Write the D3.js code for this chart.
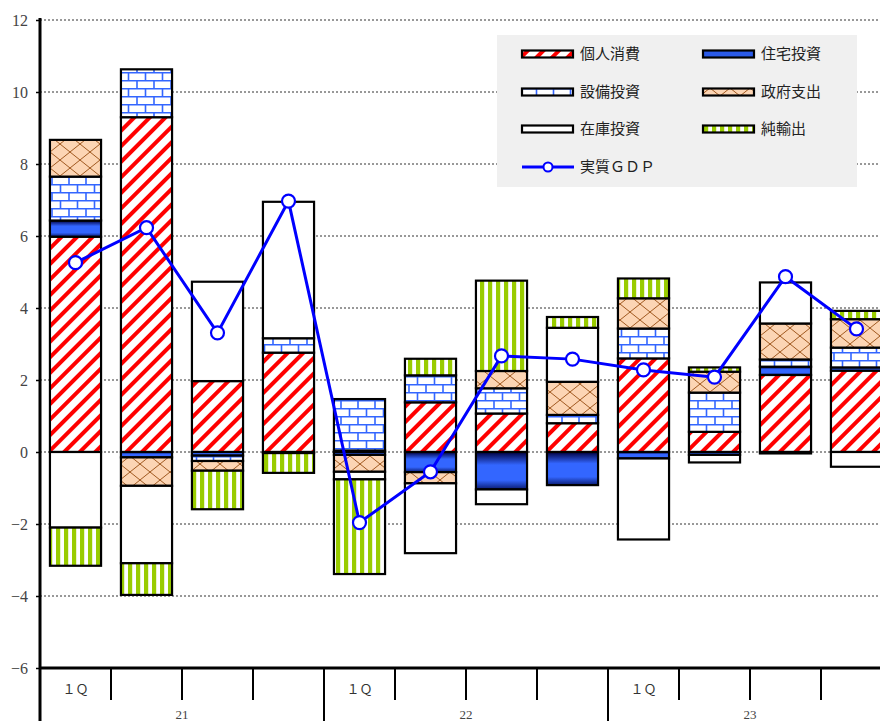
<!DOCTYPE html>
<html>
<head>
<meta charset="utf-8">
<script src="https://cdn.jsdelivr.net/npm/d3@7"></script>
<style>
body { margin: 0; background: #fff; }
svg { display: block; }
</style>
</head>
<body>
<div id="chart"></div>
<script>
const w = 880;
const h = 721;
const xLeft = 40;
const yTop = 20;
const yBottom = 668;
const serif = '"Liberation Serif", "DejaVu Serif", serif';
const jpFont = '"Noto Sans CJK JP", sans-serif';

// data (contribution to real GDP growth, % pts)
const quarters = ["21Q1","21Q2","21Q3","21Q4","22Q1","22Q2","22Q3","22Q4","23Q1","23Q2","23Q3","23Q4"];
const quarterLabels = ["１Ｑ","","","","１Ｑ","","","","１Ｑ","","",""];
const years = ["21","22","23"];
const keys = ["個人消費","住宅投資","設備投資","政府支出","在庫投資","純輸出"];
const consumption = [5.98, 9.30, 1.97, 2.76, 0.04, 1.38, 1.07, 0.80, 2.60, 0.56, 2.14, 2.26];
const housing     = [0.45, -0.15, -0.10, -0.03, -0.08, -0.56, -1.04, -0.92, -0.18, -0.08, 0.23, 0.09];
const capex       = [1.22, 1.33, -0.15, 0.40, 1.43, 0.75, 0.70, 0.23, 0.83, 1.09, 0.20, 0.55];
const government  = [1.02, -0.79, -0.27, 0, -0.47, -0.31, 0.48, 0.92, 0.84, 0.58, 1.00, 0.79];
const inventory   = [-2.10, -2.15, 2.76, 3.79, -0.21, -1.94, -0.41, 1.50, -2.25, -0.21, 1.14, -0.41];
const netExports  = [-1.06, -0.88, -1.07, -0.55, -2.63, 0.46, 2.51, 0.30, 0.55, 0.12, -0.04, 0.23];
const gdp         = [5.26, 6.23, 3.31, 6.97, -1.96, -0.55, 2.67, 2.58, 2.28, 2.08, 4.87, 3.42];
const yTicks = [-6, -4, -2, 0, 2, 4, 6, 8, 10, 12];

const cols = [consumption, housing, capex, government, inventory, netExports];
const rows = quarters.map((q, i) => {
    const r = {q: q};
    keys.forEach((k, j) => r[k] = cols[j][i]);
    return r;
});

const svg = d3.select("#chart")
.append('svg')
.attr('width', w)
.attr('height', h);

//Patterns
const defs = svg.append('defs');
const fills = {};

//個人消費: red diagonal stripes
const pCons = defs.append('pattern').attr('id','p-cons')
.attr('patternUnits','userSpaceOnUse').attr('width',11).attr('height',11)
.attr('patternTransform','rotate(45)');
pCons.append('rect').attr('width',11).attr('height',11).attr('fill','#fff');
pCons.append('rect').attr('width',4).attr('height',11).attr('fill','#ff0000');
fills["個人消費"] = 'url(#p-cons)';

//住宅投資: blue gradient
const gHouse = defs.append('linearGradient').attr('id','g-house')
.attr('x1',0).attr('y1',0).attr('x2',0).attr('y2',1);
gHouse.append('stop').attr('offset','0').attr('stop-color','#000040');
gHouse.append('stop').attr('offset','0.35').attr('stop-color','#3366ff');
gHouse.append('stop').attr('offset','0.75').attr('stop-color','#3366ff');
gHouse.append('stop').attr('offset','1').attr('stop-color','#0a1a70');
fills["住宅投資"] = 'url(#g-house)';

//設備投資: blue bricks
const pCapex = defs.append('pattern').attr('id','p-capex')
.attr('patternUnits','userSpaceOnUse').attr('width',34).attr('height',16);
pCapex.append('rect').attr('width',34).attr('height',16).attr('fill','#fff');
pCapex.append('path')
.attr('d','M0,0.8H34M0,8.8H34M1,0V8.8M18,0V8.8M9.5,8.8V16M26.5,8.8V16')
.attr('stroke','#3366ff').attr('stroke-width',1.6).attr('fill','none');
fills["設備投資"] = 'url(#p-capex)';

//政府支出: peach with brown lattice
const pGov = defs.append('pattern').attr('id','p-gov')
.attr('patternUnits','userSpaceOnUse').attr('width',20).attr('height',16);
pGov.append('rect').attr('width',20).attr('height',16).attr('fill','#fcd5b4');
pGov.append('path').attr('d','M0,0L20,16M20,0L0,16')
.attr('stroke','#a0581e').attr('stroke-width',1).attr('fill','none');
fills["政府支出"] = 'url(#p-gov)';

fills["在庫投資"] = '#fff';

//純輸出: green vertical stripes
const pNet = defs.append('pattern').attr('id','p-net')
.attr('patternUnits','userSpaceOnUse').attr('width',8).attr('height',8);
pNet.append('rect').attr('width',8).attr('height',8).attr('fill','#fff');
pNet.append('rect').attr('width',4.2).attr('height',8).attr('fill','#99cc00');
fills["純輸出"] = 'url(#p-net)';

//Scales
const xScale = d3.scaleBand()
.domain(quarters)
.range([xLeft, xLeft + 71*12])
.paddingInner(0.28)
.paddingOuter(0.14);

const yScale = d3.scaleLinear()
.domain([-6, 12])
.range([yBottom, yTop]);

//Grid lines
svg.append('g')
.selectAll('line')
.data(yTicks.filter(d => d > -6))
.enter()
.append('line')
.attr('x1', xLeft).attr('x2', w)
.attr('y1', d => yScale(d)).attr('y2', d => yScale(d))
.attr('stroke','#333').attr('stroke-width',1)
.attr('stroke-dasharray','2,2');

//Stacked bars
const stacked = d3.stack().keys(keys).offset(d3.stackOffsetDiverging)(rows);

svg.append('g')
.selectAll('g')
.data(stacked)
.enter()
.append('g')
.attr('fill', s => fills[s.key])
.selectAll('rect')
.data(s => s.filter(d => d[1] - d[0] !== 0))
.enter()
.append('rect')
.attr('x', d => xScale(d.data.q))
.attr('width', xScale.bandwidth())
.attr('y', d => yScale(Math.max(d[0], d[1])))
.attr('height', d => Math.abs(yScale(d[0]) - yScale(d[1])))
.attr('stroke','#000')
.attr('stroke-width',2.2);

//GDP line
const cx = (d, i) => xScale(quarters[i]) + xScale.bandwidth()/2;
const line = d3.line().x(cx).y(d => yScale(d));

svg.append('path')
.datum(gdp)
.attr('d', line)
.attr('fill','none')
.attr('stroke','#0000ff')
.attr('stroke-width',3);

svg.append('g')
.selectAll('circle')
.data(gdp)
.enter()
.append('circle')
.attr('cx', cx)
.attr('cy', d => yScale(d))
.attr('r', 6.5)
.attr('fill','#fff')
.attr('stroke','#0000ff')
.attr('stroke-width',2.2);

//Legend
const legend = svg.append('g').attr('id','legend');
legend.append('rect')
.attr('x',497).attr('y',35).attr('width',360).attr('height',152)
.attr('fill','#f0f0f0');

const legItems = [
    {name:"個人消費", x:522, y:54},
    {name:"住宅投資", x:703, y:54},
    {name:"設備投資", x:522, y:92},
    {name:"政府支出", x:703, y:92},
    {name:"在庫投資", x:522, y:129},
    {name:"純輸出", x:703, y:129}
];
legItems.forEach(item => {
    legend.append('rect')
    .attr('x',item.x).attr('y',item.y-3.5)
    .attr('width',51).attr('height',7)
    .attr('fill', item.name === "住宅投資" ? '#2a5ae8' : fills[item.name])
    .attr('stroke','#000').attr('stroke-width',2.2);
    legend.append('text')
    .attr('x',item.x + 58).attr('y',item.y)
    .attr('dy','0.35em')
    .style('font-family', jpFont)
    .style('font-size','15px')
    .style('fill','#222')
    .text(item.name);
});
//GDP legend
legend.append('line')
.attr('x1',522).attr('x2',574).attr('y1',167).attr('y2',167)
.attr('stroke','#0000ff').attr('stroke-width',3);
legend.append('circle')
.attr('cx',548).attr('cy',167).attr('r',4.5)
.attr('fill','#fff').attr('stroke','#0000ff').attr('stroke-width',2);
legend.append('text')
.attr('x',580).attr('y',167)
.attr('dy','0.35em')
.style('font-family', jpFont)
.style('font-size','15px')
.style('fill','#222')
.text("実質ＧＤＰ");

//Y axis
const yAxis = d3.axisLeft(yScale).tickValues(yTicks).tickSize(4).tickPadding(8);
const yG = svg.append('g')
.attr('transform',`translate(${xLeft},0)`)
.call(yAxis);
yG.select('.domain').remove();
yG.selectAll('.tick line').attr('stroke','#000').attr('stroke-width',1.5);
yG.selectAll('.tick text')
.style('font-family', serif)
.style('font-size','16px')
.style('fill','#444');
svg.append('line')
.attr('x1',xLeft).attr('x2',xLeft).attr('y1',yTop-2).attr('y2',h)
.attr('stroke','#000').attr('stroke-width',3);

//X axis
svg.append('line')
.attr('x1',xLeft).attr('x2',w).attr('y1',yBottom).attr('y2',yBottom)
.attr('stroke','#000').attr('stroke-width',3);

const gap = xScale.step() - xScale.bandwidth();
const bounds = quarters.map((q, i) => ({i: i, x: xScale(q) - gap/2}));
svg.append('g')
.selectAll('line')
.data(bounds.filter(d => d.i > 0).concat([{i: 12, x: xScale(quarters[11]) + xScale.bandwidth() + gap/2}]))
.enter()
.append('line')
.attr('x1', d => d.x).attr('x2', d => d.x)
.attr('y1', yBottom)
.attr('y2', d => d.i % 4 === 0 ? h : yBottom + 32)
.attr('stroke','#000').attr('stroke-width',2);

svg.append('g')
.selectAll('text')
.data(quarterLabels)
.enter()
.append('text')
.attr('x', (d, i) => xScale(quarters[i]) + xScale.bandwidth()/2)
.attr('y', 689)
.attr('dy','0.35em')
.attr('text-anchor','middle')
.style('font-family', jpFont)
.style('font-size','13px')
.style('fill','#333')
.text(d => d);

svg.append('g')
.selectAll('text')
.data(years)
.enter()
.append('text')
.attr('x', (d, i) => xScale(quarters[i*4]) - gap/2 + xScale.step()*2)
.attr('y', 719)
.attr('text-anchor','middle')
.style('font-family', serif)
.style('font-size','13px')
.style('fill','#444')
.text(d => d);
</script>
</body>
</html>
